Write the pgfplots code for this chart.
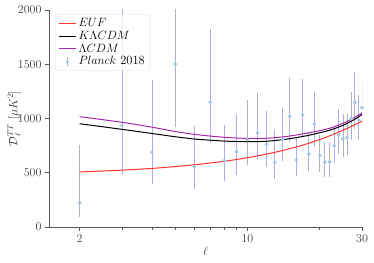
\documentclass[border=0pt]{standalone}
\usepackage{pgfplots}
\pgfplotsset{compat=1.18}
\usepackage{pgfplotstable}
\definecolor{euf}{RGB}{255,50,50}
\definecolor{lcdm}{RGB}{165,40,170}
\definecolor{errc}{RGB}{140,140,210}
\definecolor{ptc}{RGB}{160,200,230}
\pgfplotstableread{
l D ep em
2 224 532 135
3 937 1660 451
4 690 665 291
5 1502 1500 577
6 556 375 203
7 1152 673 381
8 611 326 190
9 694 350 215
10 805 366 236
11 866 372 239
12 762 310 206
13 596 298 156
14 808 286 203
15 1020 351 237
16 618 209 148
17 1033 331 206
18 673 191 157
19 949 292 209
20 661 187 154
21 599 187 135
22 602 178 138
23 750 181 163
24 848 237 175
25 811 228 163
26 825 214 164
27 1000 247 200
28 1150 275 250
29 985 232 183
30 1100 250 200
}\planck
\pgfplotstableread{
l euf klcdm lcdm
2 507 952 1017
3 524 900 965
4 540 862 920
5 557 832 880
6 573 811 854
7 590 800 838
8 606 792 827
9 622 788 820
10 639 786 817
12 672 790 818
14 705 805 830
16 738 824 848
18 772 845 868
20 806 869 888
22 840 892 910
25 892 937 955
28 942 993 1010
30 976 1037 1052
}\curves
\begin{document}
\begin{tikzpicture}
\useasboundingbox (-49pt,-35pt) rectangle (325pt,227pt);
\begin{axis}[
  at={(0,0)}, anchor=south west,
  scale only axis, width=313pt, height=217pt,
  xmode=log, log basis x=10,
  xmin=1.49, xmax=30, ymin=0, ymax=2000,
  xtick={2,10,30}, xticklabels={2,10,30},
  minor xtick={3,4,5,6,7,8,9,20},
  ytick={0,500,1000,1500,2000},
  yticklabel style={/pgf/number format/1000 sep={}},
  axis x line*=bottom, axis y line*=left,
  axis line style={black!65, line width=0.8pt},
  tick style={black!65, line width=0.6pt},
  tick align=outside,
  major tick length=4pt, minor tick length=2.5pt,
  tick label style={font=\fontsize{12}{14}\selectfont, text=black!75},
  xlabel={$\ell$}, ylabel={$\mathcal{D}_\ell^{TT}\ [\mu K^2]$},
  label style={font=\fontsize{12}{14}\selectfont, text=black!80},
  xlabel style={yshift=2pt},
  ylabel style={at={(axis description cs:-0.112,0.5)}, anchor=center, rotate=0},
  legend style={at={(0.02,0.98)}, anchor=north west, draw=black!15, rounded corners=2pt,
    font=\fontsize{12.5}{15}\selectfont, fill=white, fill opacity=0.8, text opacity=1,
    row sep=-1pt},
  legend cell align=left,
]
\addplot[forget plot, only marks, mark=*, mark size=1.5pt, mark options={ptc, draw=ptc},
  error bars/.cd, y dir=both, y explicit, error mark=none,
  error bar style={errc, line width=0.8pt, opacity=0.7}]
  table[x=l, y=D, y error plus=ep, y error minus=em] {\planck};
\addplot[forget plot, only marks, mark=*, mark size=1.5pt, mark options={ptc, draw=ptc}]
  table[x=l, y=D] {\planck};
\addplot[euf, line width=1pt, smooth] table[x=l, y=euf] {\curves};
\addlegendentry{$EUF$}
\addplot[black, line width=1pt, smooth] table[x=l, y=klcdm] {\curves};
\addlegendentry{$K\Lambda CDM$}
\addplot[lcdm, line width=1pt, smooth] table[x=l, y=lcdm] {\curves};
\addlegendentry{$\Lambda CDM$}
\addlegendimage{legend image code/.code={
  \draw[errc, line width=0.8pt, opacity=0.7] (0.3cm,-0.17cm) -- (0.3cm,0.17cm);
  \draw[ptc, fill=ptc, mark=*, mark size=1.5pt, only marks] plot coordinates {(0.3cm,0cm)};}}
\addlegendentry{$Planck$ 2018}
\end{axis}
\end{tikzpicture}
\end{document}
